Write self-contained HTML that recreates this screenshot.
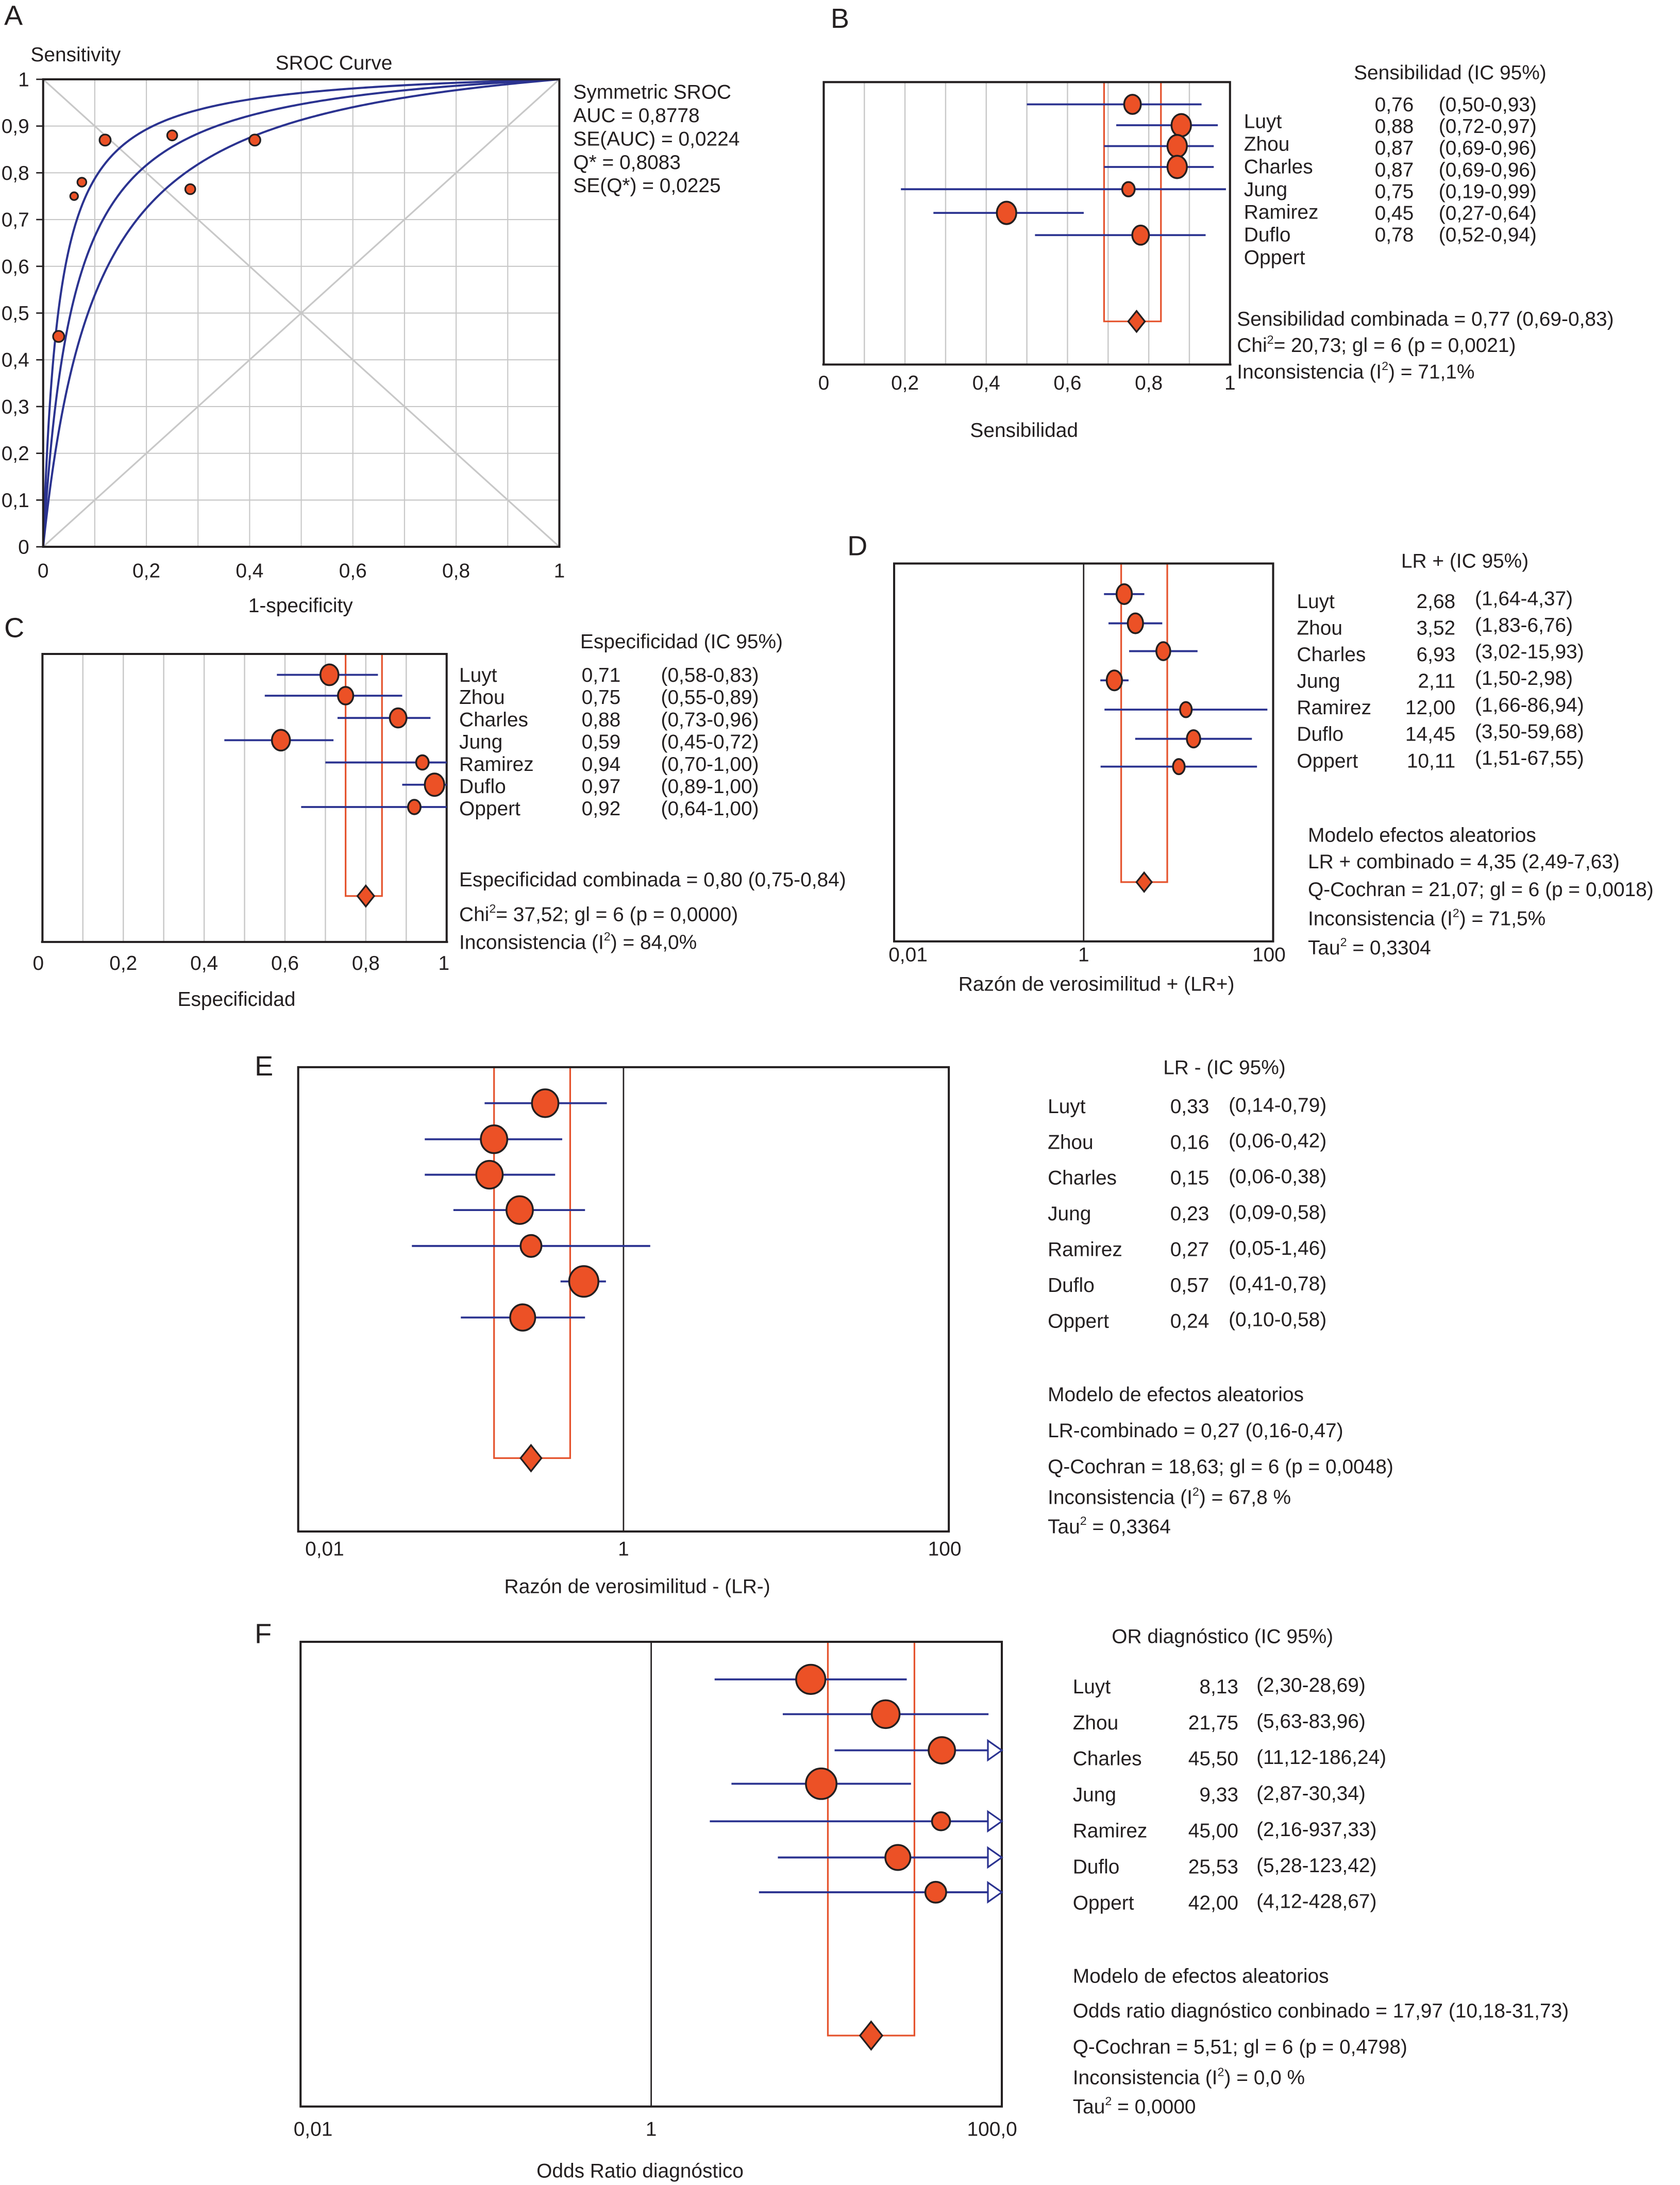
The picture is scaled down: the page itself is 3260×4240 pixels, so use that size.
<!DOCTYPE html>
<html><head><meta charset="utf-8"><style>
html,body{margin:0;padding:0;background:#fff}
svg{display:block}
text{font-family:"Liberation Sans Narrow","Liberation Sans",sans-serif;fill:#231f20}
</style></head><body>
<svg id="fig" xmlns="http://www.w3.org/2000/svg" width="3260" height="4240" viewBox="0 0 1207.4 1570.4">
<rect x="0" y="0" width="1207.4" height="1570.4" fill="#fff"/>
<g id="root"></g>
</svg>
<script>
// ---------- DATA ----------
const studies = ["Luyt","Zhou","Charles","Jung","Ramirez","Duflo","Oppert"];
// Panel A SROC
const sroc1mSpec = [0.03,0.06,0.075,0.12,0.25,0.285,0.41];
const srocSens = [0.45,0.75,0.78,0.87,0.88,0.765,0.87];
const srocSize = [5,3.5,4,5,4.5,4.5,5];
const srocQ = [0.7642,0.8083,0.8524];
const srocTicks = ["0","0,1","0,2","0,3","0,4","0,5","0,6","0,7","0,8","0,9","1"];
const srocXTicks = ["0","0,2","0,4","0,6","0,8","1"];
// Panel B sensitivity
const sensEst = [0.76,0.88,0.87,0.87,0.75,0.45,0.78];
const sensLo = [0.50,0.72,0.69,0.69,0.19,0.27,0.52];
const sensHi = [0.93,0.97,0.96,0.96,0.99,0.64,0.94];
const sensSize = [6,7,7,7,4.5,7,6];
const sensPooled = [0.77,0.69,0.83];
// Panel C specificity
const specEst = [0.71,0.75,0.88,0.59,0.94,0.97,0.92];
const specLo = [0.58,0.55,0.73,0.45,0.70,0.89,0.64];
const specHi = [0.83,0.89,0.96,0.72,1.00,1.00,1.00];
const specSize = [6.5,5.5,6,6.5,4.5,7,4.5];
const specPooled = [0.80,0.75,0.84];
// Panel D LR+
const lrpEst = [2.68,3.52,6.93,2.11,12.00,14.45,10.11];
const lrpLo = [1.64,1.83,3.02,1.50,1.66,3.50,1.51];
const lrpHi = [4.37,6.76,15.93,2.98,86.94,59.68,67.55];
const lrpSize = [5.5,5.5,5,5.5,4.2,4.8,4.2];
const lrpPooled = [4.35,2.49,7.63];
const lrpEstTxt = ["2,68","3,52","6,93","2,11","12,00","14,45","10,11"];
const lrpCITxt = ["(1,64-4,37)","(1,83-6,76)","(3,02-15,93)","(1,50-2,98)","(1,66-86,94)","(3,50-59,68)","(1,51-67,55)"];
// Panel E LR-
const lrnEst = [0.33,0.16,0.15,0.23,0.27,0.57,0.24];
const lrnLo = [0.14,0.06,0.06,0.09,0.05,0.41,0.10];
const lrnHi = [0.79,0.42,0.38,0.58,1.46,0.78,0.58];
const lrnSize = [9.5,9.5,9.5,9.5,7.5,10.5,9];
const lrnPooled = [0.27,0.16,0.47];
const lrnEstTxt = ["0,33","0,16","0,15","0,23","0,27","0,57","0,24"];
const lrnCITxt = ["(0,14-0,79)","(0,06-0,42)","(0,06-0,38)","(0,09-0,58)","(0,05-1,46)","(0,41-0,78)","(0,10-0,58)"];
// Panel F DOR
const dorEst = [8.13,21.75,45.50,9.33,45.00,25.53,42.00];
const dorLo = [2.30,5.63,11.12,2.87,2.16,5.28,4.12];
const dorHi = [28.69,83.96,186.24,30.34,937.33,123.42,428.67];
const dorSize = [10.5,10,9.5,11,6.5,9,7.5];
const dorPooled = [17.97,10.18,31.73];
const dorEstTxt = ["8,13","21,75","45,50","9,33","45,00","25,53","42,00"];
const dorCITxt = ["(2,30-28,69)","(5,63-83,96)","(11,12-186,24)","(2,87-30,34)","(2,16-937,33)","(5,28-123,42)","(4,12-428,67)"];

// ---------- helpers ----------
const NS="http://www.w3.org/2000/svg";
const FS=14.4;
const root=document.getElementById('root');
function mk(tag,attrs,parent){const e=document.createElementNS(NS,tag);for(const k in attrs)e.setAttribute(k,attrs[k]);(parent||root).appendChild(e);return e;}
function txt(x,y,s,size,anchor,name,parent){const t=mk('text',{x:x,y:y,'font-size':size||FS,'text-anchor':anchor||'start'},parent);t.textContent=s;


return t;}
function supTxt(x,y,parts,size,name){
 const t=mk('text',{x:x,y:y,'font-size':size||FS});
 
 
 const a=mk('tspan',{},t);a.textContent=parts[0];
 const b=mk('tspan',{'font-size':(size||FS)*0.6,dy:-6},t);b.textContent=parts[1];
 const c=mk('tspan',{dy:6},t);c.textContent=parts[2];
 return t;}
const BLUE="#2b3390", ORANGE="#ec5126", RED="#e5532d", GRID="#c8c8c8";
const fmt=v=>v.toFixed(2).replace('.',',');

// ---------- Panel A ----------
(function(){
 const g=mk('g',{});
 
 
 const L=31,R=402,T=57,B=393;
 const sx=v=>L+v*(R-L), sy=v=>B-v*(B-T);
 txt(3,18,"A",20,'start','panel-a-letter',g);
 txt(22,44,"Sensitivity",FS,'start','y-axis-title',g);
 txt(240,50,"SROC Curve",FS,'middle','chart-title',g);
 for(let i=1;i<10;i++){
  const gx=mk('line',{x1:sx(i/10),x2:sx(i/10),y1:T,y2:B,stroke:GRID,'stroke-width':0.8},g);
  
  const gy=mk('line',{x1:L,x2:R,y1:sy(i/10),y2:sy(i/10),stroke:GRID,'stroke-width':0.8},g);
  
 }
 const d1=mk('line',{x1:sx(0),y1:sy(0),x2:sx(1),y2:sy(1),stroke:GRID,'stroke-width':1.2},g);
 
 const d2=mk('line',{x1:sx(0),y1:sy(1),x2:sx(1),y2:sy(0),stroke:GRID,'stroke-width':1.2},g);
 
 srocQ.forEach((q,k)=>{
  const a=2*Math.log(q/(1-q));
  let d="M"+sx(0)+","+sy(0);
  for(let i=1;i<=400;i++){const f=Math.pow(i/400,2.2);const lo=Math.log(f/(1-f+1e-9))+a;const s=1/(1+Math.exp(-lo));d+=" L"+sx(f).toFixed(2)+","+sy(Math.min(s,1)).toFixed(2);}
  const p=mk('path',{d:d,fill:'none',stroke:BLUE,'stroke-width':1.5},g);
  
 });
 const box=mk('rect',{x:L,y:T,width:R-L,height:B-T,fill:'none',stroke:'#231f20','stroke-width':1.5},g);
 
 sroc1mSpec.forEach((v,i)=>{
  const c=mk('circle',{cx:sx(v),cy:sy(srocSens[i]),r:srocSize[i]*0.8,fill:ORANGE,stroke:'#231f20','stroke-width':1.2},g);
  
 });
 srocTicks.forEach((s,i)=>{
  txt(L-10,sy(i/10)+5,s,FS,'end','y-tick-label',g);
  const t=mk('line',{x1:L-5,x2:L,y1:sy(i/10),y2:sy(i/10),stroke:'#231f20'},g);
  
 });
 srocXTicks.forEach((s,i)=>{
  txt(sx(i/5),415,s,FS,'middle','x-tick-label',g);
 });
 txt(216,440,"1-specificity",FS,'middle','x-axis-title',g);
 ["Symmetric SROC","AUC = 0,8778","SE(AUC) = 0,0224","Q* = 0,8083","SE(Q*) = 0,0225"].forEach((s,i)=>txt(412,71+i*16.8,s,FS,'start','sroc-stat-'+i,g));
})();

// ---------- forest panel builder ----------
function forest(o){
 const g=mk('g',{});
 
 
 const sx = o.log ? (v=>o.L+(Math.log10(v)-(-2))/4*(o.R-o.L)) : (v=>o.L+v*(o.R-o.L));
 txt(o.letter[1],o.letter[2],o.letter[0],20,'start','panel-letter',g);
 if(o.grid){for(let i=1;i<10;i++){const l=mk('line',{x1:sx(i/10),x2:sx(i/10),y1:o.T,y2:o.B,stroke:GRID,'stroke-width':0.9},g);}}
 if(o.log){const l=mk('line',{x1:sx(1),x2:sx(1),y1:o.T,y2:o.B,stroke:'#231f20','stroke-width':1},g);}
 const p=o.pooled;
 const pr=mk('path',{d:`M${sx(p[1])},${o.T} L${sx(p[1])},${o.pY} L${sx(p[2])},${o.pY} L${sx(p[2])},${o.T}`,fill:'none',stroke:RED,'stroke-width':1.2},g);
 
 const frame=o.grid?
  mk('path',{d:`M${o.L},${o.B} L${o.L},${o.T} L${o.R},${o.T} L${o.R},${o.B} M${o.L-1},${o.B} L${o.R+1},${o.B}`,fill:'none',stroke:'#231f20','stroke-width':1.5},g):
  mk('rect',{x:o.L,y:o.T,width:o.R-o.L,height:o.B-o.T,fill:'none',stroke:'#231f20','stroke-width':1.5},g);
 
 o.est.forEach((v,i)=>{
  const y=o.rows[i];
  let hiX=sx(Math.min(o.hi[i], o.log?100:1));
  const clipped=o.log && o.hi[i]>100;
  if(clipped) hiX=o.R-10;
  const l=mk('line',{x1:sx(o.lo[i]),x2:hiX,y1:y,y2:y,stroke:BLUE,'stroke-width':1.4},g);
  
  if(clipped){const a=mk('path',{d:`M${o.R-10},${y-7} L${o.R},${y} L${o.R-10},${y+7} Z`,fill:'#fff',stroke:BLUE,'stroke-width':1.2},g);
   }
  const c=mk('ellipse',{cx:sx(v),cy:y,rx:o.size[i],ry:o.size[i]*(o.ry||1.1),fill:ORANGE,stroke:'#231f20','stroke-width':1.3},g);
  
 });
 const dx=sx(p[0]),dy=o.pY,ds=o.dia||6;
 const dm=mk('path',{d:`M${dx},${dy-ds*1.25} L${dx+ds},${dy} L${dx},${dy+ds*1.25} L${dx-ds},${dy} Z`,fill:ORANGE,stroke:'#231f20','stroke-width':1.2},g);
 
 o.ticks.forEach(t=>txt(sx(t[0])+(t[2]||0),o.tickY,t[1],FS,'middle','x-tick-label',g));
 txt(o.title[1],o.title[2],o.title[0],FS,'middle','x-axis-title',g);
 return {g,sx};
}

// Panel B
(function(){
 const B=forest({name:'panel-b-sensitivity',letter:['B',597,20],L:592,R:884,T:59,B:262,grid:true,
  est:sensEst,lo:sensLo,hi:sensHi,size:sensSize,pooled:sensPooled,pY:231,ry:1.15,dia:6,
  rows:[75,90,105,120,136,153,169],
  ticks:[[0,"0"],[0.2,"0,2"],[0.4,"0,4"],[0.6,"0,6"],[0.8,"0,8"],[1,"1"]],tickY:280,
  title:["Sensibilidad",736,314]});
 const g=B.g;
 txt(973,57,"Sensibilidad (IC 95%)",FS,'start','table-header',g);
 studies.forEach((n,i)=>txt(894,92+i*16.3,n,FS,'start','study-name',g));
 sensEst.forEach((v,i)=>{txt(988,80+i*15.6,fmt(v),FS,'start','study-estimate',g);
  txt(1034,80+i*15.6,"("+fmt(sensLo[i])+"-"+fmt(sensHi[i])+")",FS,'start','study-ci',g);});
 txt(889,234,"Sensibilidad combinada = 0,77 (0,69-0,83)",FS,'start','pooled-stat',g);
 supTxt(889,253,["Chi","2","= 20,73; gl = 6 (p = 0,0021)"],FS,'chi-square-stat');
 supTxt(889,272,["Inconsistencia (I","2",") = 71,1%"],FS,'i-squared-stat');
})();

// Panel C
(function(){
 const C=forest({name:'panel-c-specificity',letter:['C',3,458],L:30.5,R:321,T:470,B:677,grid:true,
  est:specEst,lo:specLo,hi:specHi,size:specSize,pooled:specPooled,pY:644,ry:1.15,dia:6,
  rows:[485,500,516,532,548,564,580],
  ticks:[[0,"0",-3],[0.2,"0,2"],[0.4,"0,4"],[0.6,"0,6"],[0.8,"0,8"],[1,"1",-2]],tickY:697,
  title:["Especificidad",170,723]});
 const g=C.g;
 txt(417,466,"Especificidad (IC 95%)",FS,'start','table-header',g);
 specEst.forEach((v,i)=>{const y=490+i*16;
  txt(330,y,studies[i],FS,'start','study-name',g);
  txt(418,y,fmt(v),FS,'start','study-estimate',g);
  txt(475,y,"("+fmt(specLo[i])+"-"+fmt(specHi[i])+")",FS,'start','study-ci',g);});
 txt(330,637,"Especificidad combinada = 0,80 (0,75-0,84)",FS,'start','pooled-stat',g);
 supTxt(330,662,["Chi","2","= 37,52; gl = 6 (p = 0,0000)"],FS,'chi-square-stat');
 supTxt(330,682,["Inconsistencia (I","2",") = 84,0%"],FS,'i-squared-stat');
})();

// Panel D
(function(){
 const D=forest({name:'panel-d-lr-positive',letter:['D',609,399],L:642.6,R:915,T:405,B:676.6,log:true,
  est:lrpEst,lo:lrpLo,hi:lrpHi,size:lrpSize,pooled:lrpPooled,pY:634,ry:1.3,dia:5.5,
  rows:[427,448,468,489,510,531,551],
  ticks:[[0.01,"0,01",10],[1,"1"],[100,"100",-3]],tickY:691,
  title:["Razón de verosimilitud + (LR+)",788,712]});
 const g=D.g;
 txt(1007,408,"LR + (IC 95%)",FS,'start','table-header',g);
 lrpEstTxt.forEach((s,i)=>{const y=437+i*19.1;
  txt(932,y,studies[i],FS,'start','study-name',g);
  txt(1046,y,s,FS,'end','study-estimate',g);
  txt(1060,y-2,lrpCITxt[i],FS,'start','study-ci',g);});
 txt(940,605,"Modelo efectos aleatorios",FS,'start','model-label',g);
 txt(940,624,"LR + combinado = 4,35 (2,49-7,63)",FS,'start','pooled-stat',g);
 txt(940,644,"Q-Cochran = 21,07; gl = 6 (p = 0,0018)",FS,'start','q-cochran-stat',g);
 supTxt(940,665,["Inconsistencia (I","2",") = 71,5%"],FS,'i-squared-stat');
 supTxt(940,686,["Tau","2"," = 0,3304"],FS,'tau-squared-stat');
})();

// Panel E
(function(){
 const E=forest({name:'panel-e-lr-negative',letter:['E',183,773],L:214.3,R:681.9,T:767,B:1100.7,log:true,
  est:lrnEst,lo:lrnLo,hi:lrnHi,size:lrnSize,pooled:lrnPooled,pY:1048,ry:1.05,dia:7.5,
  rows:[792.9,818.8,844.3,869.7,895.5,921,946.9],
  ticks:[[0.01,"0,01",19],[1,"1"],[100,"100",-3]],tickY:1118,
  title:["Razón de verosimilitud - (LR-)",458,1145]});
 const g=E.g;
 txt(836,772,"LR - (IC 95%)",FS,'start','table-header',g);
 lrnEstTxt.forEach((s,i)=>{const y=800+i*25.7;
  txt(753,y,studies[i],FS,'start','study-name',g);
  txt(841,y,s,FS,'start','study-estimate',g);
  txt(883,y-1,lrnCITxt[i],FS,'start','study-ci',g);});
 txt(753,1007,"Modelo de efectos aleatorios",FS,'start','model-label',g);
 txt(753,1033,"LR-combinado = 0,27 (0,16-0,47)",FS,'start','pooled-stat',g);
 txt(753,1059,"Q-Cochran = 18,63; gl = 6 (p = 0,0048)",FS,'start','q-cochran-stat',g);
 supTxt(753,1081,["Inconsistencia (I","2",") = 67,8 %"],FS,'i-squared-stat');
 supTxt(753,1102,["Tau","2"," = 0,3364"],FS,'tau-squared-stat');
})();

// Panel F
(function(){
 const F=forest({name:'panel-f-diagnostic-or',letter:['F',183,1181],L:216,R:720,T:1180,B:1514,log:true,
  est:dorEst,lo:dorLo,hi:dorHi,size:dorSize,pooled:dorPooled,pY:1463,ry:1.0,dia:8,
  rows:[1207,1232,1258,1282,1309,1335,1360],
  ticks:[[0.01,"0,01",9],[1,"1"],[100,"100,0",-7]],tickY:1535,
  title:["Odds Ratio diagnóstico",460,1565]});
 const g=F.g;
 txt(799,1181,"OR diagnóstico (IC 95%)",FS,'start','table-header',g);
 dorEstTxt.forEach((s,i)=>{const y=1217+i*25.9;
  txt(771,y,studies[i],FS,'start','study-name',g);
  txt(890,y,s,FS,'end','study-estimate',g);
  txt(903,y-1,dorCITxt[i],FS,'start','study-ci',g);});
 txt(771,1425,"Modelo de efectos aleatorios",FS,'start','model-label',g);
 txt(771,1450,"Odds ratio diagnóstico conbinado = 17,97 (10,18-31,73)",FS,'start','pooled-stat',g);
 txt(771,1476,"Q-Cochran = 5,51; gl = 6 (p = 0,4798)",FS,'start','q-cochran-stat',g);
 supTxt(771,1498,["Inconsistencia (I","2",") = 0,0 %"],FS,'i-squared-stat');
 supTxt(771,1519,["Tau","2"," = 0,0000"],FS,'tau-squared-stat');
})();
</script>
</body></html>
